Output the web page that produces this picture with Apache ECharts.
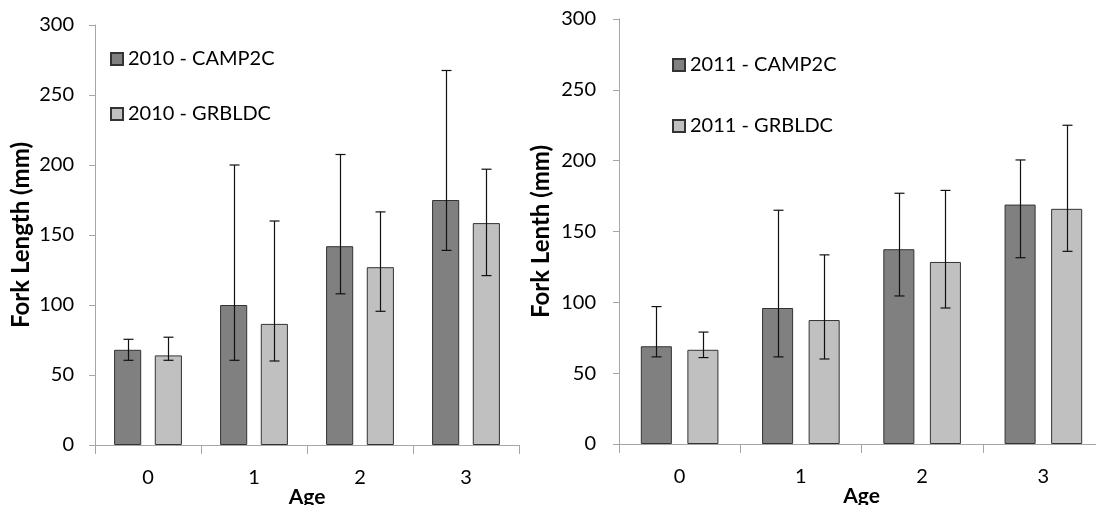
<!DOCTYPE html>
<html>
<head>
<meta charset="utf-8">
<script src="https://cdn.jsdelivr.net/npm/echarts@6/dist/echarts.min.js"></script>
<style>
  html, body { margin: 0; padding: 0; background: #fff; }
  #chart { width: 1096px; height: 505px; }
</style>
</head>
<body>
<div id="chart"></div>
<script>
// ages on the x axis
const ages = ['0', '1', '2', '3'];

// 2010 panel (mean, lower and upper error bar ends)
const camp2010 = [68, 100, 142, 175];
const camp2010Low = [60.5, 60.5, 108, 139];
const camp2010High = [75.5, 200, 207.5, 267.5];
const grbl2010 = [64, 86.5, 127, 158.5];
const grbl2010Low = [60.5, 60, 95.5, 121];
const grbl2010High = [77, 160, 166.5, 197];

// 2011 panel
const camp2011 = [69, 96, 137.5, 169];
const camp2011Low = [61.5, 61.5, 104.5, 131.5];
const camp2011High = [97, 165, 177, 200.5];
const grbl2011 = [66.5, 87.5, 128.5, 166];
const grbl2011Low = [61, 60, 96, 136];
const grbl2011High = [79, 133.5, 179, 225];

const yTicks = [0, 50, 100, 150, 200, 250, 300];

const font = 'Lato, "Open Sans", sans-serif';
const darkColor = '#808080';
const lightColor = '#c0c0c0';
const edgeColor = '#333';
const axisColor = '#a6a6a6';
const textColor = '#000';

const catGap = 0.36;
const barGap = 0.5;

function errorBars(side) {
  return function (params, api) {
    const idx = api.value(0);
    const lo = api.coord([idx, api.value(1)]);
    const hi = api.coord([idx, api.value(2)]);
    const band = api.size([1, 0])[0];
    const barW = band * (1 - catGap) / (2 + barGap);
    const x = Math.round(lo[0] + side * barW * (1 + barGap) / 2) + 0.5;
    const cap = 5;
    const style = { stroke: '#111', lineWidth: 1.2 };
    return {
      type: 'group',
      children: [
        { type: 'line', shape: { x1: x, y1: lo[1], x2: x, y2: hi[1] }, style: style },
        { type: 'line', shape: { x1: x - cap, y1: hi[1], x2: x + cap, y2: hi[1] }, style: style },
        { type: 'line', shape: { x1: x - cap, y1: lo[1], x2: x + cap, y2: lo[1] }, style: style },
      ],
    };
  };
}

function zip(lo, hi) {
  return lo.map((v, i) => [i, v, hi[i]]);
}

function xAxisOf(gridIndex) {
  return {
    type: 'category',
    gridIndex: gridIndex,
    data: ages,
    name: 'Age',
    nameLocation: 'middle',
    nameGap: 42,
    nameMoveOverlap: false,
    nameTextStyle: { fontFamily: font, fontSize: 21, fontWeight: 'bold', color: textColor },
    axisLine: { lineStyle: { color: axisColor, width: 1 } },
    axisTick: { show: true, length: 9, lineStyle: { color: axisColor } },
    axisLabel: { margin: 23, fontFamily: font, fontSize: 20, color: textColor },
    splitLine: { show: false },
  };
}

function yAxisOf(gridIndex, name, labelMargin, nameGap) {
  return {
    type: 'value',
    gridIndex: gridIndex,
    min: yTicks[0],
    max: yTicks[yTicks.length - 1],
    interval: yTicks[1] - yTicks[0],
    name: name,
    nameLocation: 'middle',
    nameGap: nameGap,
    nameRotate: 90,
    nameMoveOverlap: false,
    nameTextStyle: { fontFamily: font, fontSize: 24, fontWeight: 'bold', color: textColor },
    axisLine: { show: true, lineStyle: { color: axisColor, width: 1 } },
    axisTick: { show: true, length: 6, lineStyle: { color: axisColor } },
    axisLabel: { margin: labelMargin, fontFamily: font, fontSize: 20, color: textColor },
    splitLine: { show: false },
  };
}

function barSeries(name, data, color, gridIndex) {
  return {
    name: name,
    type: 'bar',
    xAxisIndex: gridIndex,
    yAxisIndex: gridIndex,
    data: data,
    barCategoryGap: (catGap * 100) + '%',
    barGap: (barGap * 100) + '%',
    itemStyle: { color: color, borderColor: edgeColor, borderWidth: 1 },
  };
}

function errSeries(lo, hi, side, gridIndex) {
  return {
    type: 'custom',
    xAxisIndex: gridIndex,
    yAxisIndex: gridIndex,
    renderItem: errorBars(side),
    encode: { x: 0, y: [1, 2] },
    data: zip(lo, hi),
    z: 5,
    silent: true,
  };
}

function legendOf(names, left, top, gap) {
  return {
    data: names,
    orient: 'vertical',
    left: left,
    top: top,
    itemGap: gap,
    itemWidth: 12,
    itemHeight: 12,
    icon: 'rect',
    textStyle: { fontFamily: font, fontSize: 20, lineHeight: 20, color: textColor },
  };
}

const chart = echarts.init(document.getElementById('chart'), null, { renderer: 'canvas' });

chart.setOption({
  animation: false,
  backgroundColor: '#fff',
  grid: [
    { left: 95, top: 25, width: 424, height: 420, outerBoundsMode: 'none' },
    { left: 619, top: 19, width: 485, height: 425, outerBoundsMode: 'none' },
  ],
  legend: [
    legendOf(['2010 - CAMP2C', '2010 - GRBLDC'], 105, 44, 35),
    legendOf(['2011 - CAMP2C', '2011 - GRBLDC'], 667, 50, 41),
  ],
  xAxis: [xAxisOf(0), xAxisOf(1)],
  yAxis: [
    yAxisOf(0, 'Fork Length (mm)', 21, 62),
    yAxisOf(1, 'Fork Lenth (mm)', 23, 66),
  ],
  series: [
    barSeries('2010 - CAMP2C', camp2010, darkColor, 0),
    barSeries('2010 - GRBLDC', grbl2010, lightColor, 0),
    errSeries(camp2010Low, camp2010High, -1, 0),
    errSeries(grbl2010Low, grbl2010High, 1, 0),
    barSeries('2011 - CAMP2C', camp2011, darkColor, 1),
    barSeries('2011 - GRBLDC', grbl2011, lightColor, 1),
    errSeries(camp2011Low, camp2011High, -1, 1),
    errSeries(grbl2011Low, grbl2011High, 1, 1),
  ],
});
</script>
</body>
</html>
